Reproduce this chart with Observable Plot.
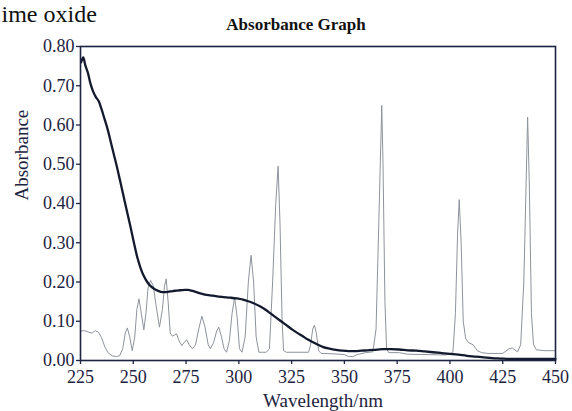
<!DOCTYPE html>
<html><head><meta charset="utf-8">
<script src="https://cdn.jsdelivr.net/npm/d3@7"></script>
<script src="https://cdn.jsdelivr.net/npm/@observablehq/plot@0.6"></script>
<style>
html,body{margin:0;padding:0;background:#fff;}
#chart{position:relative;width:572px;height:411px;overflow:hidden;}
</style></head><body><div id="chart"></div>
<script>
const titleText = "Absorbance Graph";
const cutText = "ime oxide";
const xLabel = "Wavelength/nm";
const yLabel = "Absorbance";
const xTicks = [225, 250, 275, 300, 325, 350, 375, 400, 425, 450];
const yTicks = [0, 0.1, 0.2, 0.3, 0.4, 0.5, 0.6, 0.7, 0.8];

// thick dark absorbance curve
const darkWl  = [225.3,226.3,227.3,228.5,229.7,231,232.3,233.7,235,236.3,237.8,239.2,240.8,242.4,244,245.5,247,248.7,250.3,251.9,253.5,255,256.6,258.5,260,261.5,263,264.5,266.5,268.5,270.5,272.5,274.5,276,277.5,279.5,281.8,284,286.6,289,292,296,299,302,304.5,307,310,312.5,315,317.5,320,322.5,325,327.5,330,332.5,335,337.5,340,343,346,349,352,355,358,361,364,368,372,376,380,384,388,392,396,400,404,408,412,416,420,424,428,435,442,450];
const darkAbs = [0.76,0.772,0.752,0.733,0.706,0.685,0.671,0.66,0.64,0.617,0.59,0.56,0.525,0.49,0.452,0.416,0.38,0.34,0.30,0.263,0.235,0.215,0.2,0.188,0.182,0.178,0.175,0.174,0.175,0.177,0.178,0.179,0.18,0.18,0.178,0.175,0.171,0.168,0.166,0.164,0.162,0.16,0.158,0.155,0.151,0.146,0.138,0.13,0.12,0.11,0.1,0.09,0.08,0.071,0.063,0.054,0.047,0.04,0.034,0.03,0.027,0.025,0.024,0.024,0.025,0.026,0.027,0.029,0.029,0.028,0.026,0.025,0.023,0.021,0.019,0.017,0.015,0.012,0.01,0.008,0.006,0.005,0.004,0.004,0.004,0.004];

// thin grey line-source spectrum
const greyWl  = [225,227,229,230.5,232,233.5,235,236.5,238,240,242,243.5,245,246.2,247.2,248.3,249.5,250.7,251.7,252.7,253.8,255,256,257,258.2,259.5,260.8,262.4,263.8,264.8,265.6,266.5,267.5,268.5,269.5,270.5,271.7,273,274,275.3,276.5,278,279.5,281,282.5,284,285.5,286.5,288,289.5,290.5,291.8,293,294.2,295.5,296.8,298,299.2,300.3,301.5,303,304.5,305.8,307,308.2,309.5,313,314.5,316,317.5,318.6,319.5,320.5,321.2,322.5,333,334,335,335.8,336.7,337.8,339,345,350,352,354,356,360,363.5,365,366.3,367.7,368.3,369.2,370,371,376,380,390,398,401.4,402.6,403.6,404.4,405.3,406.3,407.5,409,411,413,415,418,425,428,429.5,432,433.5,435,436.8,437.6,438.6,439.6,441,445,450];
const greyAbs = [0.075,0.076,0.072,0.07,0.076,0.072,0.058,0.035,0.02,0.012,0.01,0.012,0.03,0.07,0.083,0.06,0.025,0.06,0.13,0.157,0.12,0.078,0.12,0.185,0.204,0.19,0.14,0.085,0.13,0.19,0.208,0.15,0.07,0.062,0.065,0.068,0.05,0.038,0.045,0.053,0.04,0.03,0.04,0.08,0.113,0.085,0.04,0.03,0.045,0.075,0.085,0.06,0.03,0.021,0.05,0.12,0.161,0.11,0.03,0.021,0.06,0.2,0.268,0.2,0.06,0.021,0.021,0.03,0.2,0.4,0.495,0.35,0.1,0.025,0.021,0.021,0.04,0.08,0.09,0.07,0.025,0.018,0.017,0.015,0.01,0.01,0.015,0.02,0.022,0.08,0.35,0.65,0.5,0.15,0.03,0.02,0.02,0.016,0.015,0.014,0.02,0.12,0.32,0.41,0.3,0.1,0.055,0.045,0.04,0.025,0.02,0.018,0.018,0.03,0.032,0.022,0.04,0.2,0.62,0.45,0.12,0.04,0.027,0.025,0.025];

const dark = darkWl.map((w, i) => ({w, a: darkAbs[i]}));
const grey = greyWl.map((w, i) => ({w, a: greyAbs[i]}));
const ink = "#1d2340";

const plot = Plot.plot({
  width: 572, height: 411,
  marginLeft: 80, marginRight: 17, marginTop: 46, marginBottom: 51,
  style: {fontFamily: "'Liberation Serif', 'Times New Roman', serif", fontSize: "18px", color: ink, background: "#fff"},
  x: {domain: [225, 450], label: null},
  y: {domain: [0, 0.8], label: null},
  marks: [
    Plot.line(grey, {x: "w", y: "a", stroke: "#8e939c", strokeWidth: 1, curve: "linear"}),
    Plot.line(dark, {x: "w", y: "a", stroke: "#141a2e", strokeWidth: 2.3, curve: "monotone-x"}),
    Plot.axisX({ticks: xTicks, tickSize: 4, tickPadding: 6, tickFormat: d => String(d), label: null, stroke: ink, strokeWidth: 1.3}),
    Plot.axisY({ticks: yTicks, tickSize: 4, tickPadding: 2, tickFormat: d3.format(".2f"), label: null, stroke: ink, strokeWidth: 1.3}),
    Plot.frame({stroke: ink, strokeWidth: 1.6}),
    Plot.text([xLabel], {frameAnchor: "bottom", dx: 5, dy: 40, fontSize: 19, lineAnchor: "middle", fill: ink}),
    Plot.text([yLabel], {frameAnchor: "left", dx: -59, dy: -3, rotate: -90, fontSize: 19, lineAnchor: "middle", fill: ink}),
    Plot.text([titleText], {frameAnchor: "top", dx: -22, dy: -21.5, fontSize: 17, fontWeight: "bold", lineAnchor: "middle", fill: "#111"}),
    Plot.text([cutText], {frameAnchor: "top-left", textAnchor: "start", dx: -79, dy: -31.7, fontSize: 24, lineAnchor: "middle", fill: "#111"})
  ]
});
document.getElementById("chart").appendChild(plot);
</script></body></html>
